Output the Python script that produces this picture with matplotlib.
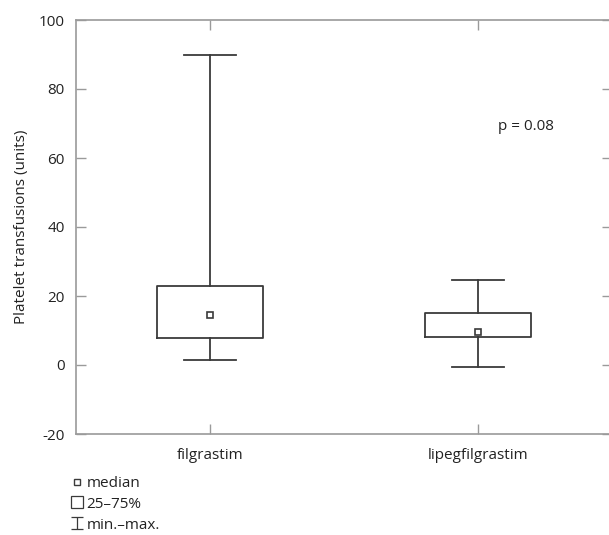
import matplotlib
matplotlib.use("Agg")
import matplotlib.pyplot as plt
from matplotlib.path import Path
from matplotlib.lines import Line2D

plt.rcParams['font.family'] = ['Open Sans', 'DejaVu Sans']

categories = ["filgrastim", "lipegfilgrastim"]
mins = [1.5, -0.5]
q1s = [7.9, 8.0]
medians = [14.6, 9.5]
q3s = [22.9, 15.2]
maxs = [90, 24.6]
yticks = [-20, 0, 20, 40, 60, 80, 100]
p_text = "p = 0.08"

line_col = "#3a3a3a"
spine_col = "#9a9a9a"
text_col = "#222222"
fs = 11

fig = plt.figure(figsize=(6.09, 5.35), dpi=100)
ax = fig.add_axes([76/609, 101/535, (612-76)/609, (434-20)/535])

positions = [1, 2]
stats = []
for c, lo, a, m, b, hi in zip(categories, mins, q1s, medians, q3s, maxs):
    stats.append(dict(label=c, whislo=lo, q1=a, med=m, q3=b, whishi=hi, fliers=[]))

ax.bxp(stats, positions=positions, widths=0.394, capwidths=0.197,
       showfliers=False,
       boxprops=dict(color=line_col, linewidth=1.3),
       whiskerprops=dict(color=line_col, linewidth=1.3),
       capprops=dict(color=line_col, linewidth=1.3),
       medianprops=dict(linewidth=0))
ax.plot(positions, medians, linestyle='none', marker='s', markersize=5,
        markerfacecolor='white', markeredgecolor=line_col, markeredgewidth=1.2)

ax.set_xlim(0.5, 2.5)
ax.set_ylim(-20, 100)
ax.set_yticks(yticks)
ax.set_yticklabels([str(t) for t in yticks])
ax.set_xticks(positions)
ax.set_xticklabels(categories)

for s in ['left', 'bottom', 'top']:
    ax.spines[s].set_color(spine_col)
    ax.spines[s].set_linewidth(1.2)
ax.spines['right'].set_visible(False)

ax.tick_params(axis='both', which='major', direction='in', length=7.5, width=1,
               color=spine_col, labelsize=fs, labelcolor=text_col)
ax.tick_params(axis='y', pad=8, right=True)
ax.tick_params(axis='x', pad=10, top=True)

ax.set_ylabel("Platelet transfusions (units)", fontsize=fs, color=text_col, labelpad=7)

ax.text(2.18, 69, p_text, fontsize=fs, color=text_col, ha='center', va='center')

# legend
ibeam = Path([(-1, -1), (1, -1), (0, -1), (0, 1), (-1, 1), (1, 1)],
             [Path.MOVETO, Path.LINETO, Path.MOVETO, Path.LINETO, Path.MOVETO, Path.LINETO])
handles = [
    Line2D([], [], linestyle='none', marker='s', markersize=4.5, markerfacecolor='white',
           markeredgecolor=line_col, markeredgewidth=1.0),
    Line2D([], [], linestyle='none', marker='s', markersize=8, markerfacecolor='white',
           markeredgecolor=line_col, markeredgewidth=0.9),
    Line2D([], [], linestyle='none', marker=ibeam, markersize=8, markerfacecolor='none',
           markeredgecolor=line_col, markeredgewidth=0.9),
]
labels = ["median", "25–75%", "min.–max."]
leg = fig.legend(handles, labels, loc='upper left', bbox_to_anchor=(71/609, 1 - 476/535),
                 frameon=False, fontsize=fs, handlelength=0.75, handletextpad=0.25,
                 labelspacing=0.38, borderpad=0, borderaxespad=0)
for t in leg.get_texts():
    t.set_color(text_col)

fig.savefig("out.png", dpi=100)
